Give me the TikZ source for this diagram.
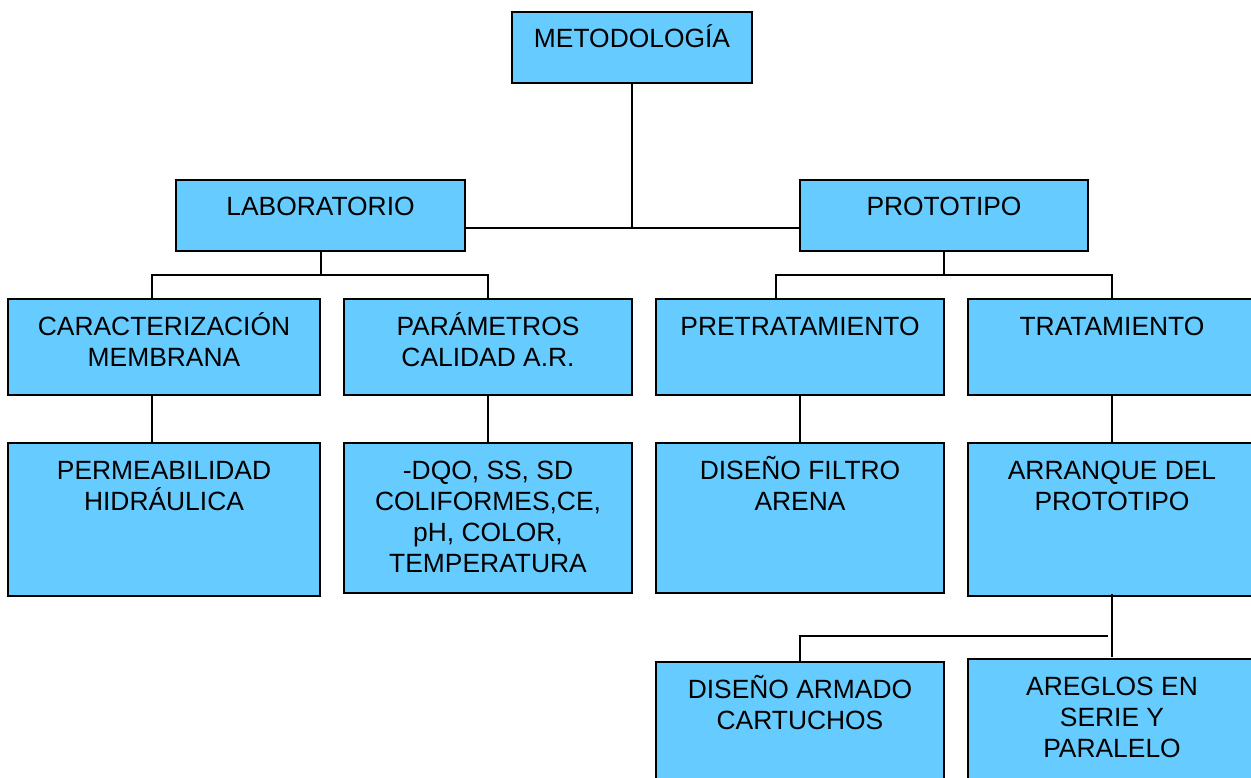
\documentclass[tikz,border=0pt]{standalone}
\usepackage{fontspec}
\setmainfont{Liberation Sans}
\definecolor{boxblue}{HTML}{66CCFF}
\begin{document}
\begin{tikzpicture}[x=1pt,y=-1pt,
  box/.style={draw=black, line width=2pt, fill=boxblue, rectangle, inner sep=0pt},
  txt/.style={align=center, inner sep=0pt, font=\fontsize{26.4}{31}\selectfont, anchor=base},
  conn/.style={draw=black, line width=2pt}]
\clip (0,0) rectangle (1251,778);
\useasboundingbox (0,0) rectangle (1251,778);
\fill[white] (0,0) rectangle (1251,778);
% boxes
\node[box, minimum width=240pt, minimum height=71pt] (met) at (632,47.5) {};
\node[box, minimum width=289pt, minimum height=71pt] (lab) at (320.5,215.5) {};
\node[box, minimum width=288pt, minimum height=71pt] (pro) at (944,215.5) {};
\node[box, minimum width=312pt, minimum height=96pt] (car) at (164,347) {};
\node[box, minimum width=288pt, minimum height=96pt] (par) at (488,347) {};
\node[box, minimum width=288pt, minimum height=96pt] (pre) at (800,347) {};
\node[box, minimum width=288pt, minimum height=96pt] (tra) at (1112,347) {};
\node[box, minimum width=312pt, minimum height=153pt] (per) at (164,519.5) {};
\node[box, minimum width=288pt, minimum height=150pt] (dqo) at (488,518) {};
\node[box, minimum width=288pt, minimum height=150pt] (dis) at (800,518) {};
\node[box, minimum width=288pt, minimum height=153pt] (arr) at (1112,519.5) {};
\node[box, minimum width=288pt, minimum height=138pt] (arm) at (800,731) {};
\node[box, minimum width=288pt, minimum height=141pt] (are) at (1112,729.5) {};
% texts (anchor = baseline of last line)
\node[txt] (met-t) at ([yshift=-37pt]met.north) {METODOLOGÍA};
\node[txt] (lab-t) at ([yshift=-37pt]lab.north) {LABORATORIO};
\node[txt] (pro-t) at ([yshift=-37pt]pro.north) {PROTOTIPO};
\node[txt] (car-t) at ([yshift=-68pt]car.north) {CARACTERIZACIÓN\\MEMBRANA};
\node[txt] (par-t) at ([yshift=-68pt]par.north) {PARÁMETROS\\CALIDAD A.R.};
\node[txt] (pre-t) at ([yshift=-37pt]pre.north) {PRETRATAMIENTO};
\node[txt] (tra-t) at ([yshift=-37pt]tra.north) {TRATAMIENTO};
\node[txt] (per-t) at ([yshift=-68pt]per.north) {PERMEABILIDAD\\HIDRÁULICA};
\node[txt] (dqo-t) at ([yshift=-130pt]dqo.north) {-DQO, SS, SD\\COLIFORMES,CE,\\pH, COLOR,\\TEMPERATURA};
\node[txt] (dis-t) at ([yshift=-68pt]dis.north) {DISEÑO FILTRO\\ARENA};
\node[txt] (arr-t) at ([yshift=-68pt]arr.north) {ARRANQUE DEL\\PROTOTIPO};
\node[txt] (arm-t) at ([yshift=-68pt]arm.north) {DISEÑO ARMADO\\CARTUCHOS};
\node[txt] (are-t) at ([yshift=-99pt]are.north) {AREGLOS EN\\SERIE Y\\PARALELO};
% connectors
\coordinate (j0) at (632,228);
\draw[conn] (met.south) -- (j0);
\draw[conn] (lab.east |- j0) -- (pro.west |- j0);
\coordinate (l1) at (152,275);
\coordinate (l2) at (488,275);
\draw[conn] (lab.south) -- (lab.south |- l1);
\draw[conn] (car.north -| l1) -- (l1) -- (l2) -- (par.north);
\coordinate (p1) at (776,275);
\coordinate (p2) at (1112,275);
\draw[conn] (pro.south) -- (pro.south |- p1);
\draw[conn] (pre.north -| p1) -- (p1) -- (p2) -- (tra.north);
\draw[conn] (car.south -| l1) -- (per.north -| l1);
\draw[conn] (par.south) -- (dqo.north);
\draw[conn] (pre.south) -- (dis.north);
\draw[conn] (tra.south) -- (arr.north);
\coordinate (a1) at (800,636);
\draw[conn] ([yshift=3pt]arr.south) -- ([yshift=1pt]are.north);
\draw[conn] (arm.north) -- (a1) -- ([xshift=-4pt]arr.south |- a1);
\end{tikzpicture}
\end{document}
